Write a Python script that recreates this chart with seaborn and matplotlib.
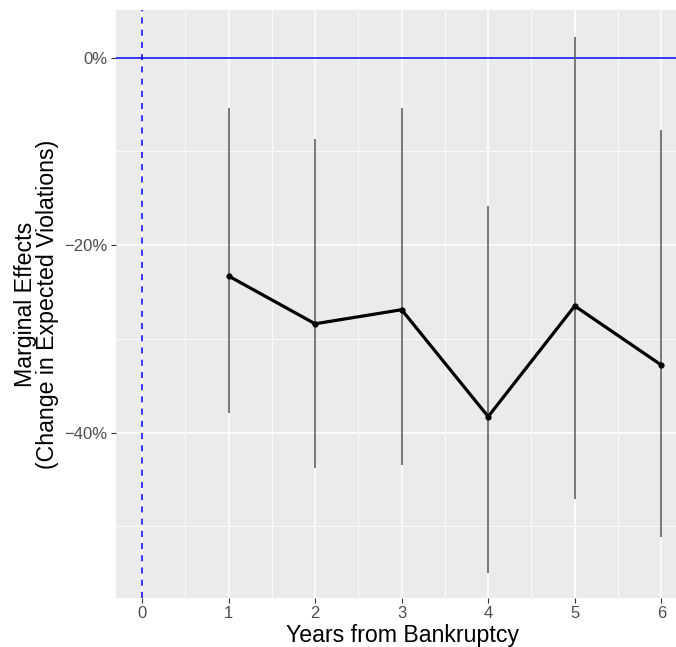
import numpy as np
import pandas as pd
import seaborn as sns
import matplotlib
matplotlib.use("Agg")
import matplotlib.pyplot as plt
from matplotlib.ticker import FixedLocator, FuncFormatter

years = [1, 2, 3, 4, 5, 6]
effect = [-23.3, -28.4, -26.9, -38.3, -26.5, -32.8]
lower = [-37.9, -43.8, -43.5, -55.0, -47.1, -51.1]
upper = [-5.4, -8.7, -5.4, -15.8, 2.2, -7.7]

df = pd.DataFrame({"year": years, "effect": effect, "lower": lower, "upper": upper})

sns.set_theme(style="darkgrid")
plt.rcParams['font.family'] = ['Liberation Sans', 'DejaVu Sans']

fig = plt.figure(figsize=(6.76, 6.47), dpi=100)
ax = fig.add_axes([116/676, 1-598/647, 1-116/676, (598-10)/647])
ax.set_facecolor('#EBEBEB')

ax.set_xlim(-0.30, 6.17)
ax.set_ylim(-57.65, 5.07)

ax.xaxis.set_major_locator(FixedLocator([0, 1, 2, 3, 4, 5, 6]))
ax.xaxis.set_minor_locator(FixedLocator([0.5, 1.5, 2.5, 3.5, 4.5, 5.5]))
ax.yaxis.set_major_locator(FixedLocator([0, -20, -40]))
ax.yaxis.set_minor_locator(FixedLocator([-10, -30, -50]))
ax.yaxis.set_major_formatter(FuncFormatter(lambda v, p: f"{int(v)}%".replace('-', '\u2212')))

ax.grid(which='major', color='white', linewidth=1.1)
ax.grid(which='minor', color='white', linewidth=0.55)
ax.set_axisbelow(True)
for s in ax.spines.values():
    s.set_visible(False)

ax.tick_params(axis='both', which='major', length=3.5, width=0.8, color='#333333',
               labelcolor='#4D4D4D', labelsize=12, pad=2.5, direction='out',
               bottom=True, left=True)
ax.tick_params(axis='both', which='minor', length=0)

ax.axhline(0, color='blue', linewidth=1.1, zorder=2)
ax.axvline(0, color='blue', linewidth=1.1, linestyle=(0, (4, 4)), zorder=2)

ax.vlines(df["year"], df["lower"], df["upper"], color='#555555', linewidth=1.1, zorder=3)

sns.lineplot(data=df, x="year", y="effect", ax=ax, color='black', linewidth=2.3,
             marker='o', markersize=4.5, markeredgewidth=0, zorder=4)

ax.set_xlabel("Years from Bankruptcy", fontsize=16.7, color='black', labelpad=2)
ax.xaxis.set_label_coords(0.5125, -0.045, transform=None) if False else None
ax.xaxis.label.set_position((0.5125, 0))
ax.set_ylabel("Marginal Effects\n(Change in Expected Violations)", fontsize=16.7,
              color='black', labelpad=4, linespacing=0.92)

fig.savefig("out.png", dpi=100)
